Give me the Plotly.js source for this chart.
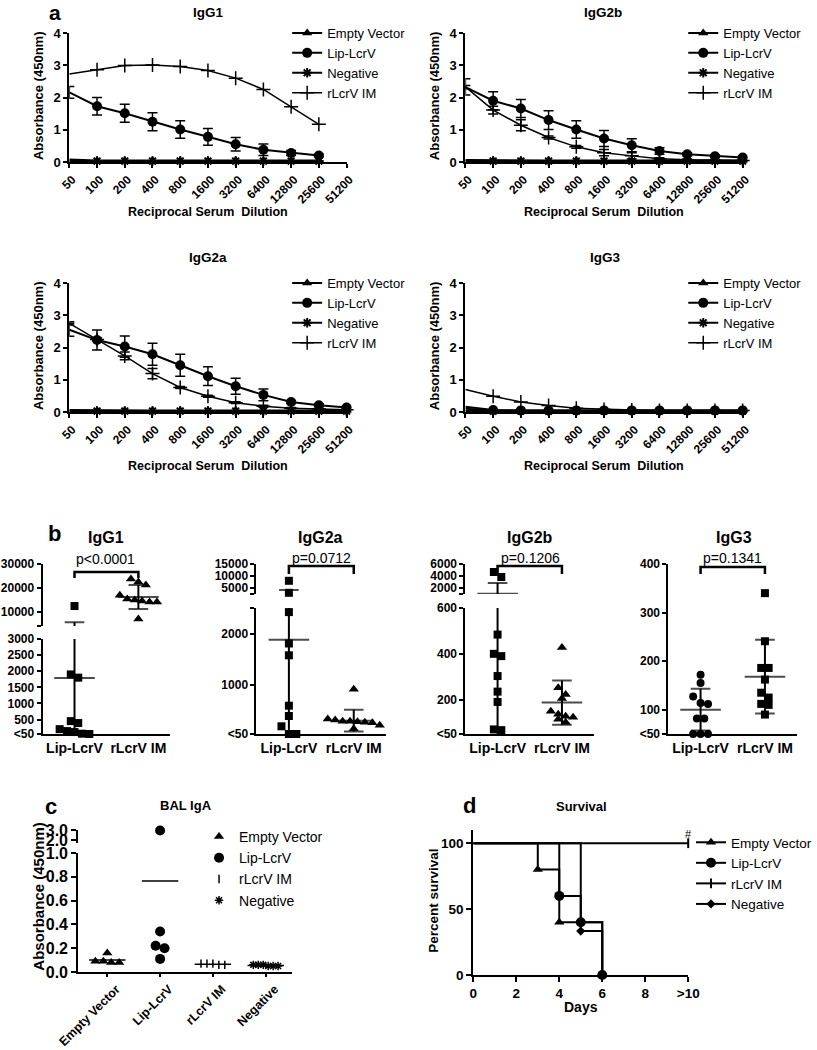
<!DOCTYPE html>
<html><head><meta charset="utf-8">
<script src="https://cdn.plot.ly/plotly-3.0.1.min.js"></script>
<style>html,body{margin:0;padding:0;background:#fff;}#chart{width:817px;height:1050px;}</style>
</head><body><div id="chart"></div>
<script>
// ================= DATA =================
// Panel a: ELISA titration curves (absorbance at 450nm)
const dilutions = [50, 100, 200, 400, 800, 1600, 3200, 6400, 12800, 25600, 51200];
const dilutionLabels = ['50','100','200','400','800','1600','3200','6400','12800','25600','51200'];
const absTicks = [0, 1, 2, 3, 4];
const seriesNames = ['Empty Vector', 'Lip-LcrV', 'Negative', 'rLcrV IM'];
const aTitles = ['IgG1', 'IgG2b', 'IgG2a', 'IgG3'];

const igg1Empty = [0.08,0.05,0.05,0.05,0.05,0.05,0.05,0.05,0.05,0.05];
const igg1Lip   = [2.16,1.73,1.51,1.25,1.01,0.78,0.55,0.38,0.28,0.20];
const igg1LipSd = [0.18,0.27,0.28,0.28,0.27,0.26,0.21,0.18,0.08,0.04];
const igg1Neg   = [0.03,0.03,0.03,0.03,0.03,0.03,0.03,0.03,0.03,0.03];
const igg1Rl    = [2.73,2.86,2.99,3.01,2.96,2.84,2.60,2.25,1.71,1.17];

const igg2bEmpty = [0.06,0.05,0.05,0.05,0.05,0.05,0.05,0.05,0.05,0.05,0.05];
const igg2bLip   = [2.32,1.90,1.66,1.30,1.01,0.73,0.52,0.34,0.24,0.18,0.14];
const igg2bLipSd = [0.05,0.28,0.28,0.29,0.27,0.25,0.20,0.10,0.05,0.04,0.03];
const igg2bNeg   = [0.03,0.03,0.03,0.03,0.03,0.03,0.03,0.03,0.03,0.03,0.03];
const igg2bRl    = [2.33,1.61,1.14,0.76,0.47,0.29,0.19,0.10,0.07,0.05,0.05];
const igg2bRlSd  = [0.25,0.12,0.17,0.05,0.04,0.10,0.10,0.03,0.02,0.02,0.02];

const igg2aEmpty = [0.06,0.05,0.05,0.05,0.05,0.05,0.05,0.05,0.05,0.05,0.05];
const igg2aLip   = [2.55,2.23,2.03,1.79,1.45,1.11,0.80,0.53,0.31,0.21,0.14];
const igg2aLipSd = [0.20,0.31,0.33,0.34,0.34,0.29,0.25,0.18,0.05,0.04,0.03];
const igg2aNeg   = [0.03,0.03,0.03,0.03,0.03,0.03,0.03,0.03,0.03,0.03,0.03];
const igg2aRl    = [2.75,2.25,1.74,1.19,0.76,0.49,0.29,0.18,0.12,0.09,0.07];
const igg2aRlSd  = [0.05,0.05,0.12,0.16,0.03,0.03,0.03,0.03,0.02,0.02,0.02];

const igg3Empty = [0.10,0.05,0.05,0.05,0.05,0.05,0.05,0.05,0.05,0.05,0.05];
const igg3Lip   = [0.16,0.06,0.05,0.05,0.05,0.05,0.05,0.05,0.05,0.05,0.05];
const igg3Neg   = [0.03,0.03,0.03,0.03,0.03,0.03,0.03,0.03,0.03,0.03,0.03];
const igg3Rl    = [0.70,0.49,0.31,0.20,0.12,0.08,0.06,0.05,0.05,0.05,0.05];

// Panel b: endpoint titers per mouse
const bGroups = ['Lip-LcrV', 'rLcrV IM'];
const bTitles = ['IgG1', 'IgG2a', 'IgG2b', 'IgG3'];
const bPvalues = ['p&lt;0.0001', 'p=0.0712', 'p=0.1206', 'p=0.1341'];

const bIgG1Lip  = [12500,1900,1800,450,390,200,110,50,60,140];
const bIgG1Rl   = [23750,22500,21250,17000,15400,15000,14600,14200,14200,7100];
const bIgG1Mean = [1786,16250];
const bIgG1Sd   = [4000,5000];
const bIgG1LoTicks = [50,500,1000,1500,2000,2500,3000];
const bIgG1LoText  = ['&lt;50','500','1000','1500','2000','2500','3000'];
const bIgG1HiTicks = [10000,20000,30000];
const bIgG1HiText  = ['10000','20000','30000'];

const bIgG2aLip  = [8000,3000,2420,1810,1580,600,400,200,50,50];
const bIgG2aRl   = [920,340,320,300,300,290,280,270,220,150];
const bIgG2aMean = [1885,310];
const bIgG2aSd   = [2280,210];
const bIgG2aLoTicks = [50,1000,2000];
const bIgG2aLoText  = ['&lt;50','1000','2000'];
const bIgG2aHiTicks = [5000,10000,15000];
const bIgG2aHiText  = ['5000','10000','15000'];

const bIgG2bLip  = [4670,3830,484,400,390,303,235,190,67,70];
const bIgG2bRl   = [428,252,222,205,149,136,127,123,114,101];
const bIgG2bMean = [1050,187];
const bIgG2bSd   = [1780,97];
const bIgG2bLoTicks = [50,200,400,600];
const bIgG2bLoText  = ['&lt;50','200','400','600'];
const bIgG2bHiTicks = [2000,4000,6000];
const bIgG2bHiText  = ['2000','4000','6000'];

const bIgG3Lip  = [172,155,127,112,114,82,82,50,50,50];
const bIgG3Rl   = [340,241,186,186,162,135,125,112,110,90];
const bIgG3Mean = [100,168];
const bIgG3Sd   = [43,76];
const bIgG3Ticks = [50,100,200,300,400];
const bIgG3Text  = ['&lt;50','100','200','300','400'];

// Panel c: BAL IgA
const cGroups = ['Empty Vector', 'Lip-LcrV', 'rLcrV IM', 'Negative'];
const balEmpty = [0.16,0.09,0.08,0.08,0.09];
const balLip   = [2.95,0.34,0.22,0.20,0.11];
const balRl    = [0.07,0.06,0.07,0.07,0.06];
const balNeg   = [0.06,0.05,0.06,0.05,0.06,0.05];
const cLoTicks = [0,0.2,0.4,0.6,0.8,1.0];
const cLoText  = ['0.0','0.2','0.4','0.6','0.8','1.0'];
const cHiTicks = [2,3];
const cHiText  = ['2.0','3.0'];

// Panel d: survival
const survEmptyDays = [0,3,4,6];   const survEmptyPct = [100,80,40,0];
const survLipDays   = [0,4,5,6];   const survLipPct   = [100,60,40,0];
const survRlDays    = [0,10];      const survRlPct    = [100,100];
const survNegDays   = [0,5,6];     const survNegPct   = [100,33.3,0];
const dXTicks = [0,2,4,6,8,10];
const dXText  = ['0','2','4','6','8','&gt;10'];
const dYTicks = [0,50,100];

// ================= LAYOUT HELPERS =================
const W = 817, H = 1050;
const F = 'Liberation Sans, Arial, Helvetica, sans-serif';
const fx = p => p / W;
const fy = p => 1 - p / H;
const xdom = (a, b) => [a / W, b / W];
const ydom = (t, b) => [1 - b / H, 1 - t / H];
const font = (size, bold) => ({family: F, size: size, color: '#000', weight: bold ? 'bold' : 'normal'});
const axKey = id => (id[0] === 'x' ? 'xaxis' : 'yaxis') + id.slice(1);
const baseAxis = {showline: true, linewidth: 2, linecolor: '#000', showgrid: false, zeroline: false,
  ticks: 'outside', tickwidth: 2, tickcolor: '#000', tickmode: 'array', fixedrange: true};
function legendAt(xPx, topPx, size) {
  return {x: fx(xPx), y: fy(topPx), xanchor: 'left', yanchor: 'top', xref: 'paper', yref: 'paper',
    bgcolor: 'rgba(0,0,0,0)', borderwidth: 0, font: font(size, false), tracegroupgap: 0,
    itemwidth: 30, traceorder: 'normal'};
}
function ann(text, xPx, yPx, size, bold, extra) {
  return Object.assign({text: text, x: fx(xPx), y: fy(yPx), xref: 'paper', yref: 'paper',
    showarrow: false, xanchor: 'center', yanchor: 'middle', font: font(size, bold)}, extra || {});
}
// deterministic side-by-side spreading of points with similar values (like a column scatter)
function swarmX(vals, center, pyOf, pxPerUnit, spacing, threshold) {
  const py = vals.map(pyOf);
  const order = vals.map((_, k) => k).sort((a, b) => (py[a] - py[b]) || (a - b));
  const xs = new Array(vals.length);
  let row = [], start = null;
  const flush = () => { row.forEach((k, j) => { xs[k] = center + (j - (row.length - 1) / 2) * spacing / pxPerUnit; }); row = []; };
  order.forEach(k => { if (start === null || py[k] - start >= threshold) { flush(); start = py[k]; } row.push(k); });
  flush();
  return xs;
}

const traces = [];
const layout = {width: W, height: H, margin: {l: 0, r: 0, t: 0, b: 0, pad: 0},
  paper_bgcolor: '#fff', plot_bgcolor: 'rgba(0,0,0,0)', showlegend: true, hovermode: false,
  font: font(12, false), annotations: [], shapes: []};

// ================= PANEL A =================
const aPanels = [
  {xa: 'x',  ya: 'y',  xPx: [70, 350],  yPx: [33, 162],  leg: 'legend',  legPx: [290, 18],  titlePx: [210, 12],  xtY: 212},
  {xa: 'x2', ya: 'y2', xPx: [470, 750], yPx: [33, 162],  leg: 'legend2', legPx: [690, 18],  titlePx: [609, 12],  xtY: 212},
  {xa: 'x3', ya: 'y3', xPx: [70, 350],  yPx: [283, 412], leg: 'legend3', legPx: [290, 268], titlePx: [210, 257], xtY: 466},
  {xa: 'x4', ya: 'y4', xPx: [470, 750], yPx: [283, 412], leg: 'legend4', legPx: [690, 268], titlePx: [611, 257], xtY: 466}
];
const aSeries = [
  {empty: igg1Empty,  lip: igg1Lip,  lipSd: igg1LipSd,  neg: igg1Neg,  rl: igg1Rl,  rlSd: null},
  {empty: igg2bEmpty, lip: igg2bLip, lipSd: igg2bLipSd, neg: igg2bNeg, rl: igg2bRl, rlSd: igg2bRlSd},
  {empty: igg2aEmpty, lip: igg2aLip, lipSd: igg2aLipSd, neg: igg2aNeg, rl: igg2aRl, rlSd: igg2aRlSd},
  {empty: igg3Empty,  lip: igg3Lip,  lipSd: null,       neg: igg3Neg,  rl: igg3Rl,  rlSd: null}
];
aPanels.forEach((p, i) => {
  const d = aSeries[i];
  const x = dilutions.slice(0, d.lip.length);
  layout[axKey(p.xa)] = Object.assign({}, baseAxis, {domain: xdom(p.xPx[0], p.xPx[1]), anchor: p.ya, type: 'log',
    range: [Math.log10(dilutions[0]), Math.log10(dilutions[dilutions.length - 1])],
    tickvals: dilutions, ticktext: dilutionLabels, tickangle: -45, ticklen: 4, ticklabelshift: 3, tickfont: font(12, true)});
  layout[axKey(p.ya)] = Object.assign({}, baseAxis, {domain: ydom(p.yPx[0], p.yPx[1]), anchor: p.xa,
    range: [absTicks[0], absTicks[absTicks.length - 1]], tickvals: absTicks, ticklen: 4, tickfont: font(13, true)});
  layout[p.leg] = legendAt(p.legPx[0], p.legPx[1], 13);
  const base = {type: 'scatter', mode: 'lines+markers', xaxis: p.xa, yaxis: p.ya, legend: p.leg, cliponaxis: false, hoverinfo: 'skip', x: x};
  const eb = sd => sd ? {type: 'data', array: sd, visible: true, color: '#000', thickness: 1.5, width: 5} : {visible: false};
  traces.push(Object.assign({}, base, {name: seriesNames[0], y: d.empty, line: {color: '#000', width: 2},
    marker: {symbol: 'triangle-up', size: 9, color: '#000'}}));
  traces.push(Object.assign({}, base, {name: seriesNames[1], y: d.lip, line: {color: '#000', width: 2},
    marker: {symbol: 'circle', size: 10, color: '#000'}, error_y: eb(d.lipSd)}));
  traces.push(Object.assign({}, base, {name: seriesNames[2], y: d.neg, line: {color: '#000', width: 2},
    marker: {symbol: 'asterisk-open', size: 8, color: '#000', line: {width: 2, color: '#000'}}}));
  traces.push(Object.assign({}, base, {name: seriesNames[3], y: d.rl, line: {color: '#000', width: 1.5},
    marker: {symbol: 'cross-thin-open', size: 10, color: '#000', line: {width: 1.5, color: '#000'}}, error_y: eb(d.rlSd)}));
  layout.annotations.push(ann(aTitles[i], p.titlePx[0], p.titlePx[1], 13.5, true));
  layout.annotations.push(ann('Absorbance (450nm)', p.xPx[0] - 31, (p.yPx[0] + p.yPx[1]) / 2 - 2, 13, true, {textangle: -90}));
  layout.annotations.push(ann('Reciprocal Serum&nbsp; Dilution', (p.xPx[0] + p.xPx[1]) / 2, p.xtY, 12.5, true));
});
layout.annotations.push(ann('a', 56, 12, 21, true));

// ================= PANEL B =================
const bPanels = [
  {xa: 'x5', lo: 'y5', hi: 'y6', xPx: [43, 172], loPx: [639, 734], hiPx: [564, 626], loRange: [50, 3000], hiRange: [4200, 30000],
   loTicks: bIgG1LoTicks, loText: bIgG1LoText, hiTicks: bIgG1HiTicks, hiText: bIgG1HiText,
   bracketPx: [572, 578], pPx: [107, 559], titlePx: [107, 537], syms: ['square', 'triangle-up']},
  {xa: 'x6', lo: 'y7', hi: 'y8', xPx: [259, 390], loPx: [608, 734], hiPx: [564, 594], loRange: [50, 2500], hiRange: [2500, 15000],
   loTicks: bIgG2aLoTicks, loText: bIgG2aLoText, hiTicks: bIgG2aHiTicks, hiText: bIgG2aHiText,
   bracketPx: [566, 574], pPx: [325, 558], titlePx: [324, 537], syms: ['square', 'triangle-up']},
  {xa: 'x7', lo: 'y9', hi: 'y10', xPx: [470, 600], loPx: [608, 734], hiPx: [564, 594], loRange: [50, 600], hiRange: [1000, 6000],
   loTicks: bIgG2bLoTicks, loText: bIgG2bLoText, hiTicks: bIgG2bHiTicks, hiText: bIgG2bHiText,
   bracketPx: [566, 574], pPx: [536, 558], titlePx: [535, 537], syms: ['square', 'triangle-up']},
  {xa: 'x8', lo: 'y11', hi: null, xPx: [675, 805], loPx: [564, 734], loRange: [50, 400],
   loTicks: bIgG3Ticks, loText: bIgG3Text,
   bracketPx: [567, 574], pPx: [740, 558], titlePx: [741, 537], syms: ['circle', 'square']}
];
const bData = [
  {groups: [bIgG1Lip, bIgG1Rl],   mean: bIgG1Mean,  sd: bIgG1Sd},
  {groups: [bIgG2aLip, bIgG2aRl], mean: bIgG2aMean, sd: bIgG2aSd},
  {groups: [bIgG2bLip, bIgG2bRl], mean: bIgG2bMean, sd: bIgG2bSd},
  {groups: [bIgG3Lip, bIgG3Rl],   mean: bIgG3Mean,  sd: bIgG3Sd}
];
bPanels.forEach((p, i) => {
  const data = bData[i];
  layout[axKey(p.xa)] = Object.assign({}, baseAxis, {domain: xdom(p.xPx[0], p.xPx[1]), anchor: p.lo, range: [0.5, 2.5],
    tickvals: [1, 2], ticktext: bGroups, ticks: '', tickfont: font(14, true)});
  const loTv = p.loTicks.slice(), loTt = p.loText.slice();
  if (p.hi && loTv.indexOf(p.loRange[1]) < 0) { loTv.push(p.loRange[1]); loTt.push(''); }
  layout[axKey(p.lo)] = Object.assign({}, baseAxis, {domain: ydom(p.loPx[0], p.loPx[1]), anchor: p.xa, range: p.loRange,
    tickvals: loTv, ticktext: loTt, ticklen: 4, tickfont: font(12, true)});
  if (p.hi) {
    layout[axKey(p.hi)] = Object.assign({}, baseAxis, {domain: ydom(p.hiPx[0], p.hiPx[1]), anchor: p.xa, range: p.hiRange,
      tickvals: [p.hiRange[0]].concat(p.hiTicks), ticktext: [''].concat(p.hiText), ticklen: 4, tickfont: font(12, true)});
  }
  const seg = v => (p.hi && v > p.loRange[1]) ? 'hi' : 'lo';
  const pyOf = v => {
    const s = seg(v), px = s === 'hi' ? p.hiPx : p.loPx, r = s === 'hi' ? p.hiRange : p.loRange;
    return px[1] - (v - r[0]) / (r[1] - r[0]) * (px[1] - px[0]);
  };
  const pxPerUnit = (p.xPx[1] - p.xPx[0]) / 2;
  data.groups.forEach((vals, g) => {
    const c = g + 1;
    const xs = swarmX(vals, c, pyOf, pxPerUnit, 7.5, 8);
    const segs = p.hi ? ['lo', 'hi'] : ['lo'];
    segs.forEach(s => {
      const ya = s === 'hi' ? p.hi : p.lo;
      const idx = vals.map((_, k) => k).filter(k => seg(vals[k]) === s);
      if (idx.length) traces.push({type: 'scatter', mode: 'markers', xaxis: p.xa, yaxis: ya,
        x: idx.map(k => xs[k]), y: idx.map(k => vals[k]), cliponaxis: false, showlegend: false, hoverinfo: 'skip',
        marker: {symbol: p.syms[g], size: p.syms[g] === 'triangle-up' ? 9 : 8, color: '#000'}});
      const m = data.mean[g], sd = data.sd[g];
      traces.push({type: 'scatter', mode: 'lines', xaxis: p.xa, yaxis: ya, x: [c, c], y: [m - sd, m + sd],
        line: {color: '#000', width: 2}, showlegend: false, hoverinfo: 'skip'});
      traces.push({type: 'scatter', mode: 'markers', xaxis: p.xa, yaxis: ya, x: [c, c, c], y: [m - sd, m + sd, m],
        cliponaxis: true, showlegend: false, hoverinfo: 'skip',
        marker: {symbol: 'line-ew-open', size: [14, 14, 29], color: '#000', line: {width: 2, color: '#000'}}});
    });
  });
  const yb = fy(p.bracketPx[1]), yt = fy(p.bracketPx[0]);
  layout.shapes.push({type: 'path', xref: p.xa, yref: 'paper',
    path: 'M1,' + yb + ' L1,' + yt + ' L2,' + yt + ' L2,' + yb, line: {color: '#000', width: 2.5}});
  layout.annotations.push(ann(bTitles[i], p.titlePx[0], p.titlePx[1], 16, true));
  layout.annotations.push(ann(bPvalues[i], p.pPx[0], p.pPx[1], 14, false));
});
layout.annotations.push(ann('b', 55, 533, 22, true));

// ================= PANEL C =================
const cP = {xa: 'x9', lo: 'y12', hi: 'y13', xPx: [79, 295], loPx: [853, 972], hiPx: [830, 843],
  loRange: [0, 1], hiRange: [1.7, 3.0], xRange: [0.45, 4.5]};
layout[axKey(cP.xa)] = Object.assign({}, baseAxis, {domain: xdom(cP.xPx[0], cP.xPx[1]), anchor: cP.lo, range: cP.xRange,
  tickvals: [1, 2, 3, 4], ticktext: cGroups, tickangle: -45, ticklen: 3, ticklabelshift: 9, tickfont: font(12.5, true)});
layout[axKey(cP.lo)] = Object.assign({}, baseAxis, {domain: ydom(cP.loPx[0], cP.loPx[1]), anchor: cP.xa, range: cP.loRange,
  tickvals: cLoTicks, ticktext: cLoText, ticklen: 5, tickfont: font(16, true)});
layout[axKey(cP.hi)] = Object.assign({}, baseAxis, {domain: ydom(cP.hiPx[0], cP.hiPx[1]), anchor: cP.xa, range: cP.hiRange,
  tickvals: cHiTicks, ticktext: cHiText, ticklen: 5, tickfont: font(16, true)});
layout.legend5 = legendAt(201, 821, 14);
const cVals = [balEmpty, balLip, balRl, balNeg];
const cStyle = [
  {symbol: 'triangle-up', size: 9, lw: 0, spacing: 8},
  {symbol: 'circle', size: 10, lw: 0, spacing: 9},
  {symbol: 'line-ns-open', size: 6, lw: 1.5, spacing: 6},
  {symbol: 'asterisk-open', size: 7, lw: 1.5, spacing: 5}
];
{
  const seg = v => v > cP.loRange[1] ? 'hi' : 'lo';
  const pyOf = v => {
    const s = seg(v), px = s === 'hi' ? cP.hiPx : cP.loPx, r = s === 'hi' ? cP.hiRange : cP.loRange;
    return px[1] - (v - r[0]) / (r[1] - r[0]) * (px[1] - px[0]);
  };
  const pxPerUnit = (cP.xPx[1] - cP.xPx[0]) / (cP.xRange[1] - cP.xRange[0]);
  cVals.forEach((vals, g) => {
    const st = cStyle[g], c = g + 1;
    const xs = swarmX(vals, c, pyOf, pxPerUnit, st.spacing, 8);
    ['lo', 'hi'].forEach(s => {
      const idx = vals.map((_, k) => k).filter(k => seg(vals[k]) === s);
      if (!idx.length) return;
      traces.push({type: 'scatter', mode: 'markers', xaxis: cP.xa, yaxis: s === 'hi' ? cP.hi : cP.lo,
        x: idx.map(k => xs[k]), y: idx.map(k => vals[k]), cliponaxis: false, hoverinfo: 'skip',
        name: cGroups[g], legend: 'legend5', showlegend: s === 'lo',
        marker: {symbol: st.symbol, size: st.size, color: '#000', line: {width: st.lw, color: '#000'}}});
    });
    const mean = vals.reduce((a, b) => a + b, 0) / vals.length;
    traces.push({type: 'scatter', mode: 'markers', xaxis: cP.xa, yaxis: mean > cP.loRange[1] ? cP.hi : cP.lo,
      x: [c], y: [mean], cliponaxis: true, showlegend: false, hoverinfo: 'skip',
      marker: {symbol: 'line-ew-open', size: 26, color: '#000', line: {width: 1.5, color: '#000'}}});
  });
}
layout.annotations.push(ann('c', 52, 806, 22, true));
layout.annotations.push(ann('BAL IgA', 188, 805, 13, true));
layout.annotations.push(ann('Absorbance (450nm)', 38, 897, 15, true, {textangle: -90}));

// ================= PANEL D =================
const dP = {xa: 'x10', ya: 'y14', xPx: [478, 695], yPx: [830, 975], xRange: [0, 10], yRange: [0, 110]};
layout[axKey(dP.xa)] = Object.assign({}, baseAxis, {domain: xdom(dP.xPx[0], dP.xPx[1]), anchor: dP.ya, range: dP.xRange,
  tickvals: dXTicks, ticktext: dXText, ticklen: 5, tickfont: font(13.5, true)});
layout[axKey(dP.ya)] = Object.assign({}, baseAxis, {domain: ydom(dP.yPx[0], dP.yPx[1]), anchor: dP.xa, range: dP.yRange,
  tickvals: dYTicks, ticklen: 5, tickfont: font(13.5, true)});
layout.legend6 = legendAt(698, 827, 13.5);
const survSets = [
  {name: 'Empty Vector', days: survEmptyDays, pct: survEmptyPct, symbol: 'triangle-up', size: 9, lw: 0},
  {name: 'Lip-LcrV', days: survLipDays, pct: survLipPct, symbol: 'circle', size: 10, lw: 0},
  {name: 'rLcrV IM', days: survRlDays, pct: survRlPct, symbol: 'line-ns-open', size: 7, lw: 2},
  {name: 'Negative', days: survNegDays, pct: survNegPct, symbol: 'diamond', size: 7, lw: 0}
];
survSets.forEach(s => {
  // traced from the last event back to day 0 so the start point carries no marker
  const x = s.days.slice().reverse(), y = s.pct.slice().reverse();
  const col = x.map((_, k) => k === x.length - 1 ? 'rgba(0,0,0,0)' : '#000');
  traces.push({type: 'scatter', mode: 'lines+markers', xaxis: dP.xa, yaxis: dP.ya, x: x, y: y, name: s.name,
    legend: 'legend6', cliponaxis: false, hoverinfo: 'skip', line: {shape: 'vh', color: '#000', width: 2},
    marker: {symbol: s.symbol, size: s.size, color: col, line: {width: s.lw, color: col}}});
});
layout.annotations.push(ann('d', 474, 805, 22, true));
layout.annotations.push(ann('Survival', 587, 806, 13, true));
layout.annotations.push(ann('Days', 587, 1007, 14, true));
layout.annotations.push(ann('Percent survival', 437, 901, 13.5, true, {textangle: -90}));
layout.annotations.push(ann('#', 695, 834, 11, false));

Plotly.newPlot('chart', traces, layout, {staticPlot: true, displayModeBar: false});
</script>
</body></html>
